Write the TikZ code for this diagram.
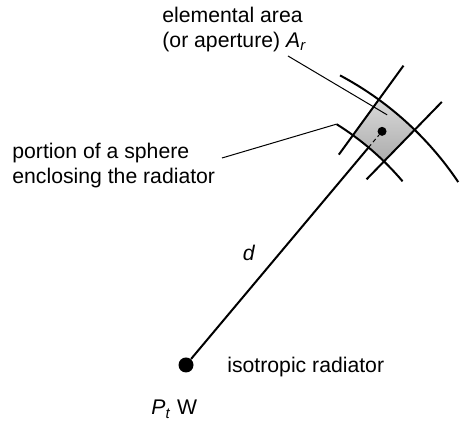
\documentclass[tikz,border=0pt]{standalone}
\usepackage{fontspec}
\setmainfont{Liberation Sans}
\usepackage{tikz}
\begin{document}
\begin{tikzpicture}[
  x=0.5pt, y=0.5pt,
  lbl/.style={inner sep=0pt, align=left, font=\fontsize{10.6}{12.4}\selectfont},
  sphere/.style={line width=1pt},
  leader/.style={line width=0.5pt},
  spot/.style={circle, fill, inner sep=0pt}
]
\useasboundingbox (0,0) rectangle (460,432);
\node[spot, minimum size=7.5pt] (src) at (186,67) {};
\begin{scope}[shift={(src)}]
\shade[top color=gray!30, middle color=gray!5, bottom color=gray!65]
  (45.8:284) arc[start angle=45.8, end angle=54, radius=284]
  -- (54:328) arc[start angle=54, end angle=45.8, radius=328] -- cycle;
\draw[sphere] (58:284) arc[start angle=58, end angle=40.3, radius=284];
\draw[sphere] (62:328) arc[start angle=62, end angle=33.9, radius=328];
\draw[sphere] (54:260) -- (54:370);
\draw[sphere] (45.8:259) -- (45.8:367);
\node[spot, minimum size=4.5pt] (elem) at (50:305) {};
\coordinate (rim) at (50:284);
\coordinate (cap) at (58:284);
\coordinate (tip) at (51.2:321);
\end{scope}
\draw[sphere] (src) -- (rim);
\draw[line width=0.5pt, dash pattern=on 2pt off 1.5pt] (rim) -- (elem);

\node[lbl, anchor=north west] (area) at (162,425) {elemental area\\(or aperture) \textit{A}\textsubscript{\textit{r}}};
\node[lbl, anchor=north west] (portion) at (12,289) {portion of a sphere\\enclosing the radiator};
\node[lbl] (dist) at (249,179) {\textit{d}};
\node[lbl, anchor=base west] (iso) at (227,59) {isotropic radiator};
\node[lbl, anchor=base west] (power) at (151,17) {\textit{P}\textsubscript{\textit{t}} W};
\coordinate (areafoot) at (288,376);
\coordinate (portionfoot) at (222,274);
\draw[leader] (areafoot) -- (tip);
\draw[leader] (portionfoot) -- (cap);
\end{tikzpicture}
\end{document}
